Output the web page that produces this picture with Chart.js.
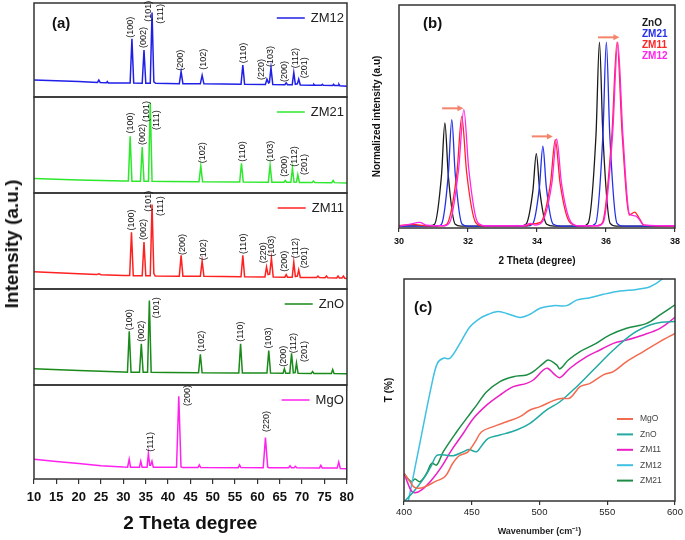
<!DOCTYPE html>
<html>
<head>
<meta charset="utf-8">
<script src="https://cdn.jsdelivr.net/npm/chart.js@4.4.1/dist/chart.umd.min.js"></script>
<style>
  html, body { margin: 0; padding: 0; background: #fff; }
  body { width: 685px; height: 540px; position: relative; overflow: hidden; }
  canvas { position: absolute; }
  .ytitle { position: absolute; left: 12px; top: 244px; transform: translate(-50%, -50%) rotate(-90deg);
            font: bold 19px Arial, "Liberation Sans", sans-serif; color: #111; white-space: nowrap; }
</style>
</head>
<body>
<canvas id="a0" width="360" height="100" style="left:0;top:0"></canvas>
<canvas id="a1" width="360" height="102" style="left:0;top:94px"></canvas>
<canvas id="a2" width="360" height="102" style="left:0;top:190px"></canvas>
<canvas id="a3" width="360" height="102" style="left:0;top:286px"></canvas>
<canvas id="a4" width="360" height="158" style="left:0;top:382px"></canvas>
<canvas id="b" width="325" height="275" style="left:360px;top:0"></canvas>
<canvas id="c" width="325" height="272" style="left:360px;top:268px"></canvas>
<div class="ytitle">Intensity (a.u.)</div>

<script>
const FONT = 'Arial, "Liberation Sans", sans-serif'

// ===== (a) XRD patterns: [2theta, intensity %] =====
const zm12Xrd = [[10,18],[20,16.5],[24.2,15.5],[24.5,18],[24.8,15.5],[26.2,15.2],[26.4,16.5],[26.6,15],[30,14.8],[31.5,14.8],[31.9,62],[32.3,14.8],[34.2,14.7],[34.6,50],[35.0,14.7],[36.0,14.7],[36.4,90],[36.8,16],[37.2,14.6],[42.5,14.2],[42.9,27],[43.3,14.2],[47.2,14],[47.6,23],[48.0,14],[56.3,13.5],[56.7,34],[57.1,13.5],[61.75,13.3],[62.1,19],[62.45,15],[62.65,15.5],[63.0,31],[63.4,13.2],[66.1,13],[66.4,15],[66.7,13],[67.75,13],[68.1,26],[68.45,13.5],[68.9,14],[69.2,19],[69.55,12.8],[72.4,12.5],[72.6,13.5],[72.8,12.5],[74.3,12.4],[74.5,13.5],[74.7,12.4],[76.8,12.2],[77,13.5],[77.2,12.2],[78,12.2],[78.2,13.5],[78.4,12],[80,11.5]]
const zm21Xrd = [[10,15],[20,13.5],[30,12.5],[31.1,12.5],[31.5,59],[31.9,12.3],[33.8,12.3],[34.2,48],[34.6,12.3],[35.6,12.3],[36.0,94],[36.4,12.3],[40,12],[46.9,11.8],[47.3,28],[47.7,11.8],[56.0,11.5],[56.4,31],[56.8,11.5],[62.4,11.3],[62.8,29],[63.2,11.3],[65.9,11.2],[66.2,13],[66.5,11.2],[67.45,11.2],[67.8,26],[68.15,11.3],[68.7,11.5],[69.0,19],[69.35,11],[72.2,11],[72.5,12.5],[72.8,11],[76.6,10.8],[76.9,13],[77.2,10.8],[80,10.5]]
const zm11Xrd = [[10,18],[20,16],[24,15],[24.5,15.8],[25,14.8],[30,14],[31.4,14],[31.8,59],[32.2,13.8],[34.2,13.8],[34.6,49],[35.0,13.8],[36.0,13.8],[36.4,88],[36.8,16],[37.1,13.6],[42.5,13.4],[42.9,35],[43.3,13.4],[47.2,13.2],[47.6,29],[48.0,13.2],[56.3,12.8],[56.7,35],[57.1,12.8],[61.65,12.6],[62.0,23],[62.35,15],[62.7,15.5],[63.1,32],[63.5,12.5],[66.1,12.3],[66.4,15],[66.7,12.3],[67.75,12.2],[68.1,28],[68.45,13],[68.9,13.5],[69.2,20],[69.55,12],[73.2,12],[73.5,13.5],[73.8,12],[75.1,11.8],[75.4,13.5],[75.7,11.8],[77.7,11.5],[78,13.5],[78.3,11.5],[78.9,11.5],[79.2,13.5],[79.5,11.2],[80,11]]
const znoXrd = [[10,17],[20,15],[30,13.5],[30.9,13.3],[31.3,56],[31.7,13.3],[33.6,13.2],[34.0,43],[34.4,13.2],[35.4,13.2],[35.8,88],[36.2,13.2],[40,13],[46.8,12.8],[47.2,32],[47.6,12.8],[55.8,12.5],[56.2,43],[56.6,12.5],[62.1,12.4],[62.5,36],[62.9,12.4],[65.7,12.3],[66.0,17],[66.3,12.3],[67.2,12.3],[67.6,33],[68.0,12.5],[68.4,12.8],[68.7,23],[69.05,12.2],[72.0,12.1],[72.3,14],[72.6,12.1],[76.5,12],[76.8,16],[77.1,12],[80,11.8]]
const mgoXrd = [[10,21],[15,18.7],[20,16.5],[25,14],[30,12.7],[30.95,12.6],[31.3,21],[31.6,12.6],[33.6,12.5],[33.9,19],[34.2,12.5],[35.3,12.5],[35.6,27],[35.9,14.5],[36.1,14.5],[36.4,19],[36.7,12.4],[41.9,12.4],[42.4,88],[42.9,12.8],[43.3,12.3],[46.7,12.2],[47.0,15],[47.3,12.2],[55.7,12.1],[56.0,15],[56.3,12.1],[61.3,12],[61.8,44],[62.3,12.6],[62.6,12],[67.0,12],[67.3,14],[67.6,12],[68.2,12],[68.5,13.5],[68.8,11.9],[73.9,11.8],[74.2,14.5],[74.5,11.8],[77.85,11.6],[78.2,18],[78.55,11.2],[80,11]]

// hkl labels: [text, 2theta, intensity at label foot]
const zm12Hkl = [['(100)',31.6,63],['(002)',34.6,52],['(101)',35.6,80],['(111)',38.2,78],['(200)',42.7,28],['(102)',47.8,29],['(110)',56.8,36],['(220)',60.9,18],['(103)',63.0,32],['(200)',66.1,16],['(112)',68.4,30.5],['(201)',70.4,20]]
const zm21Hkl = [['(100)',31.5,62],['(002)',34.2,50],['(101)',35.2,74],['(111)',37.4,65.6],['(102)',47.7,31],['(110)',56.6,32.6],['(103)',62.9,32.6],['(200)',66.0,17],['(112)',68.2,27.4],['(201)',70.4,18.8]]
const zm11Hkl = [['(100)',31.8,61],['(002)',34.6,51],['(101)',35.6,80.5],['(111)',38.2,76],['(200)',43.3,35.4],['(102)',47.9,30],['(110)',56.8,36.5],['(220)',61.3,26.7],['(103)',63.2,33.7],['(200)',66.0,18],['(112)',68.4,32],['(201)',70.4,21.5]]
const znoHkl = [['(100)',31.3,57],['(002)',34.0,45],['(101)',37.4,69.5],['(102)',47.4,34.7],['(110)',56.2,45],['(103)',62.5,38],['(200)',65.8,19],['(112)',68.0,33],['(201)',70.4,24]]
const mgoHkl = [['(111)',36.1,29],['(200)',44.4,77.7],['(220)',62.0,50]]

const xrdTicks = [10, 80, 5]

// ===== (b) normalized intensity: [2theta, I] =====
const bZnO = [[30,0.01],[30.9,0.012],[31.03,0.02],[31.23,0.28],[31.33,0.565],[31.43,0.28],[31.63,0.02],[31.8,0.01],[33.5,0.01],[33.68,0.02],[33.88,0.2],[33.98,0.4],[34.08,0.2],[34.28,0.02],[34.5,0.01],[35.3,0.01],[35.48,0.025],[35.71,0.5],[35.81,1.0],[35.91,0.5],[36.12,0.025],[36.3,0.01],[38,0.01]]
const bZM21 = [[30,0.01],[31.1,0.01],[31.23,0.02],[31.43,0.29],[31.53,0.583],[31.63,0.29],[31.83,0.02],[32,0.01],[33.7,0.01],[33.87,0.02],[34.07,0.22],[34.17,0.44],[34.27,0.22],[34.47,0.02],[34.7,0.01],[35.5,0.01],[35.7,0.025],[35.91,0.5],[36.01,1.0],[36.11,0.5],[36.32,0.025],[36.5,0.01],[38,0.01]]
const bZM11 = [[30,0.012],[30.4,0.02],[30.8,0.012],[31.3,0.012],[31.42,0.03],[31.68,0.3],[31.82,0.6],[31.96,0.3],[32.22,0.03],[32.4,0.012],[33.7,0.012],[33.8,0.02],[34.1,0.03],[34.39,0.24],[34.53,0.475],[34.67,0.24],[34.95,0.03],[35.2,0.012],[35.75,0.012],[35.9,0.03],[36.17,0.5],[36.32,1.0],[36.47,0.5],[36.68,0.07],[36.83,0.085],[36.97,0.05],[37.1,0.015],[38,0.01]]
const bZM12 = [[30,0.01],[30.3,0.02],[30.6,0.03],[30.8,0.015],[31.3,0.012],[31.47,0.03],[31.73,0.32],[31.88,0.637],[32.02,0.32],[32.28,0.03],[32.5,0.012],[33.6,0.012],[33.8,0.025],[33.95,0.015],[34.14,0.03],[34.43,0.24],[34.57,0.48],[34.71,0.24],[34.99,0.03],[35.2,0.012],[35.77,0.012],[35.92,0.03],[36.19,0.5],[36.34,1.0],[36.49,0.5],[36.68,0.075],[36.85,0.065],[36.95,0.05],[37.1,0.015],[38,0.012]]
// shift arrows: [from 2theta, to 2theta, level]
const bArrows = [[31.25,31.87,0.644],[33.85,34.46,0.493],[35.77,36.39,1.026]]

// ===== (c) FTIR: [wavenumber, T %] =====
const cMgO = [[400,12.5],[404.4,8.7],[407,6.5],[410.6,5.7],[415.5,6.4],[422.9,8.7],[430.3,11],[436,17],[441,20.5],[447,22],[452.4,26.5],[457.3,31.2],[465.9,33.5],[475.8,35.7],[485.6,38],[493,41],[500.4,42.5],[510.2,45.2],[516,46.2],[522.5,46.4],[529.9,51.5],[537.3,53],[547.1,56.8],[554.5,58.3],[564.3,62.8],[576.6,67.3],[588.9,71.8],[600,75.5]]
const cZnO = [[400.7,0],[408.1,5],[415.5,11],[420.4,16.2],[424.1,20.5],[430,20.7],[436.4,20.4],[443.8,22.2],[448,23.2],[453.6,22.2],[458,25.5],[462.2,28.2],[470.8,29.7],[483.1,32],[493,35],[505.3,41],[515.1,44.7],[527.4,51.5],[539.7,59],[554.5,68],[569.2,75.5],[581.5,79.3],[590,80.5],[600,80.8]]
const cZM11 = [[400,12.5],[402.5,8.5],[405.5,4.5],[408.1,3.7],[413,5],[420.4,9.5],[427.8,15.5],[435.2,23],[443.8,30.5],[451.2,37.2],[461,43.2],[470.8,47.7],[480.7,51.5],[490.5,53],[495.4,54.5],[502.8,59],[506,59.8],[511.4,56.8],[515.1,55.6],[522.5,59.8],[534.8,65],[544.6,68],[554.5,71],[564.3,72.5],[576.6,74.8],[588.9,77.8],[600,82.7]]
const cZM12 = [[403.2,0],[411.8,26.3],[420.4,52.3],[424.6,62],[429,64.3],[433.9,64.3],[441.3,71],[448.7,78.5],[456.1,82.3],[462.2,84.1],[468.4,85.3],[475.8,84.5],[485.6,82.7],[493,84.1],[500.4,86.8],[510.2,88],[520,88],[527.4,90.5],[537.3,91.6],[547.1,93.1],[559.4,94.6],[571.7,95.3],[581.5,96.5],[590.2,99.8],[594,103]]
const cZM21 = [[400,12.5],[403.2,9.8],[405.7,8.7],[408.1,9.9],[411.8,8.7],[416.7,12.5],[420.4,17],[424.1,16.2],[429,22.2],[438.9,31.2],[446.2,37.2],[453.6,43.2],[461,49.2],[470.8,53.8],[480.7,56],[490.5,56.8],[495.4,58.3],[502.8,62],[506.5,63.5],[512.7,61.3],[515.1,59.5],[521.3,63.5],[529.9,67.3],[539.7,70.3],[552,74.8],[564.3,77.8],[579.1,80],[588.9,83.8],[600,88.3]]

// ===== helpers =====
function frame(chart) {
  const { ctx, chartArea: a } = chart
  ctx.save()
  ctx.strokeStyle = '#333'; ctx.lineWidth = 1.5
  ctx.strokeRect(a.left, a.top, a.right - a.left, a.bottom - a.top)
  ctx.restore()
}

function tag(chart, text, x, y, size) {
  const { ctx } = chart
  ctx.save()
  ctx.font = `bold ${size}px ${FONT}`; ctx.fillStyle = '#111'
  ctx.textAlign = 'left'; ctx.textBaseline = 'middle'
  ctx.fillText(text, x, y)
  ctx.restore()
}

const tickGrid = len => ({ display: true, drawOnChartArea: false, drawTicks: true, tickLength: len, color: '#333', lineWidth: 1.2 })

// ===== (a) stacked XRD panels =====
function xrdPanel(id, data, color, name, hkl, isBottom, extra) {
  const xScale = isBottom ? {
    type: 'linear', min: xrdTicks[0], max: xrdTicks[1],
    grid: tickGrid(5), border: { display: false },
    ticks: { stepSize: xrdTicks[2], color: '#111', padding: 6, maxRotation: 0, font: { family: FONT, size: 13, weight: 'bold' } },
    title: { display: true, text: '2 Theta degree', color: '#111', padding: { bottom: 5 }, font: { family: FONT, size: 19, weight: 'bold' } },
    afterFit: s => { s.height = 61 }
  } : { type: 'linear', min: xrdTicks[0], max: xrdTicks[1], display: false }

  new Chart(document.getElementById(id), {
    type: 'line',
    data: { datasets: [{ label: name, data, borderColor: color, borderWidth: 1.5, pointRadius: 0, tension: 0 }] },
    options: {
      responsive: false, animation: false, events: [],
      layout: { padding: { left: 34, right: 13, top: 3, bottom: isBottom ? 0 : 3 } },
      scales: { x: xScale, y: { min: 0, max: 100, display: false } },
      plugins: { legend: { display: false }, tooltip: { enabled: false } }
    },
    plugins: [{
      id: 'deco-' + id,
      afterDraw(chart) {
        frame(chart)
        const { ctx, chartArea: a, scales: { x, y } } = chart
        ctx.save()
        // hkl labels
        ctx.font = `9px ${FONT}`; ctx.fillStyle = '#111'
        ctx.textAlign = 'left'; ctx.textBaseline = 'middle'
        hkl.forEach(([t, tt, v]) => {
          ctx.save()
          ctx.translate(x.getPixelForValue(tt), y.getPixelForValue(v))
          ctx.rotate(-Math.PI / 2)
          ctx.fillText(t, 0, 0)
          ctx.restore()
        })
        // legend entry
        ctx.font = `13px ${FONT}`
        const w = ctx.measureText(name).width
        const tx = a.right - 3 - w, ty = a.top + 15
        ctx.strokeStyle = color; ctx.lineWidth = 1.5
        ctx.beginPath(); ctx.moveTo(tx - 34, ty); ctx.lineTo(tx - 6, ty); ctx.stroke()
        ctx.fillStyle = '#222'; ctx.fillText(name, tx, ty + 0.5)
        ctx.restore()
        if (extra) extra(chart)
      }
    }]
  })
}

xrdPanel('a0', zm12Xrd, '#1f1fe8', 'ZM12', zm12Hkl, false, ch => tag(ch, '(a)', ch.chartArea.left + 18, ch.chartArea.top + 21, 15))
xrdPanel('a1', zm21Xrd, '#2ee82e', 'ZM21', zm21Hkl, false)
xrdPanel('a2', zm11Xrd, '#ff2020', 'ZM11', zm11Hkl, false)
xrdPanel('a3', znoXrd, '#1a8a1a', 'ZnO', znoHkl, false)
xrdPanel('a4', mgoXrd, '#ff22ee', 'MgO', mgoHkl, true)

// ===== (b) normalized peaks =====
const bSeries = [
  { name: 'ZnO',  data: bZnO,  color: '#1a1a1a', order: 3 },
  { name: 'ZM21', data: bZM21, color: '#2430e8', order: 2 },
  { name: 'ZM11', data: bZM11, color: '#ff2424', order: 1 },
  { name: 'ZM12', data: bZM12, color: '#ff24ea', order: 0 },
]

new Chart(document.getElementById('b'), {
  type: 'line',
  data: {
    datasets: bSeries.map(s => ({
      label: s.name, data: s.data, borderColor: s.color, borderWidth: 1.3,
      pointRadius: 0, cubicInterpolationMode: 'monotone', order: s.order
    }))
  },
  options: {
    responsive: false, animation: false, events: [],
    layout: { padding: { left: 0, right: 10, top: 5, bottom: 0 } },
    scales: {
      x: {
        type: 'linear', min: 30, max: 38,
        grid: tickGrid(4), border: { display: false },
        ticks: { stepSize: 2, color: '#111', padding: 4, maxRotation: 0, font: { family: FONT, size: 9, weight: 'bold' } },
        title: { display: true, text: '2 Theta (degree)', color: '#111', padding: { bottom: 8 }, font: { family: FONT, size: 10, weight: 'bold' } },
        afterFit: s => { s.height = 47 }
      },
      y: {
        min: 0, max: 1.2,
        grid: { display: false }, border: { display: false }, ticks: { display: false },
        title: { display: true, text: 'Normalized intensity (a.u)', color: '#111', padding: { top: 11 }, font: { family: FONT, size: 10, weight: 'bold' } },
        afterFit: s => { s.width = 39 }
      }
    },
    plugins: { legend: { display: false }, tooltip: { enabled: false } }
  },
  plugins: [{
    id: 'deco-b',
    afterDraw(chart) {
      frame(chart)
      const { ctx, chartArea: a, scales: { x, y } } = chart
      ctx.save()
      // arrows
      ctx.strokeStyle = '#f4846c'; ctx.fillStyle = '#f4846c'; ctx.lineWidth = 2
      bArrows.forEach(([x0, x1, v]) => {
        const px0 = x.getPixelForValue(x0), px1 = x.getPixelForValue(x1), py = y.getPixelForValue(v)
        ctx.beginPath(); ctx.moveTo(px0, py); ctx.lineTo(px1 - 4, py); ctx.stroke()
        ctx.beginPath(); ctx.moveTo(px1, py); ctx.lineTo(px1 - 6, py - 3); ctx.lineTo(px1 - 6, py + 3); ctx.closePath(); ctx.fill()
      })
      // legend as coloured text
      ctx.font = `bold 10px ${FONT}`; ctx.textAlign = 'left'; ctx.textBaseline = 'middle'
      bSeries.forEach((s, i) => {
        ctx.fillStyle = s.color
        ctx.fillText(s.name, a.right - 33, a.top + 18 + i * 11)
      })
      ctx.restore()
      tag(chart, '(b)', a.left + 24, a.top + 19, 15)
    }
  }]
})

// ===== (c) FTIR =====
const cSeries = [
  { name: 'MgO',  data: cMgO,  color: '#f26b50' },
  { name: 'ZnO',  data: cZnO,  color: '#22aaa2' },
  { name: 'ZM11', data: cZM11, color: '#ec1fc6' },
  { name: 'ZM12', data: cZM12, color: '#3fc1e3' },
  { name: 'ZM21', data: cZM21, color: '#1d8c46' },
]

new Chart(document.getElementById('c'), {
  type: 'line',
  data: {
    datasets: cSeries.map(s => ({
      label: s.name, data: s.data, borderColor: s.color, borderWidth: 1.5,
      pointRadius: 0, tension: 0.35
    }))
  },
  options: {
    responsive: false, animation: false, events: [],
    layout: { padding: { left: 0, right: 10, top: 11, bottom: 0 } },
    scales: {
      x: {
        type: 'linear', min: 400, max: 600,
        grid: tickGrid(4), border: { display: false },
        ticks: { stepSize: 50, color: '#222', padding: 2, maxRotation: 0, font: { family: FONT, size: 9.5 } },
        title: { display: true, text: 'Wavenumber (cm⁻¹)', color: '#222', padding: { bottom: 3 }, font: { family: FONT, size: 9, weight: 'bold' } },
        afterFit: s => { s.height = 39 }
      },
      y: {
        min: 0, max: 100,
        grid: { display: false }, border: { display: false }, ticks: { display: false },
        title: { display: true, text: 'T (%)', color: '#111', padding: { top: 23 }, font: { family: FONT, size: 10, weight: 'bold' } },
        afterFit: s => { s.width = 44 }
      }
    },
    plugins: { legend: { display: false }, tooltip: { enabled: false } }
  },
  plugins: [{
    id: 'deco-c',
    afterDraw(chart) {
      frame(chart)
      const { ctx, chartArea: a } = chart
      ctx.save()
      ctx.font = `8.5px ${FONT}`; ctx.textAlign = 'left'; ctx.textBaseline = 'middle'
      cSeries.forEach((s, i) => {
        const ly = a.top + 140 + i * 15.4
        ctx.strokeStyle = s.color; ctx.lineWidth = 2
        ctx.beginPath(); ctx.moveTo(a.right - 58, ly); ctx.lineTo(a.right - 42, ly); ctx.stroke()
        ctx.fillStyle = '#444'; ctx.fillText(s.name, a.right - 35, ly)
      })
      ctx.restore()
      tag(chart, '(c)', a.left + 10, a.top + 29, 15)
    }
  }]
})
</script>
</body>
</html>
